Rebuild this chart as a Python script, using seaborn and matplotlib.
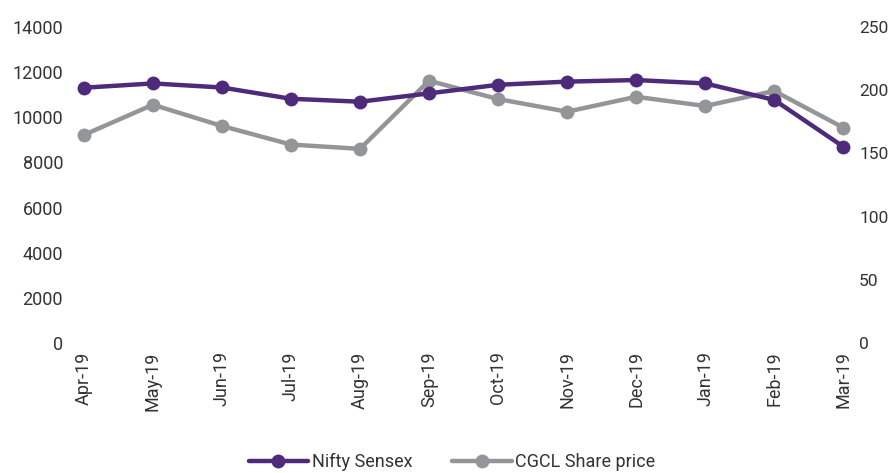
import matplotlib
matplotlib.use("Agg")
import matplotlib.pyplot as plt
import seaborn as sns
import pandas as pd
from matplotlib.lines import Line2D

months = ["Apr-19", "May-19", "Jun-19", "Jul-19", "Aug-19", "Sep-19",
          "Oct-19", "Nov-19", "Dec-19", "Jan-19", "Feb-19", "Mar-19"]
nifty = [11310, 11500, 11320, 10820, 10690, 11060, 11440, 11580, 11650, 11500, 10770, 8700]
cgcl = [164.6, 188.5, 171.7, 157.0, 153.6, 207.5, 193.0, 183.0, 194.8, 187.5, 199.4, 170.4]
left_ticks = [0, 2000, 4000, 6000, 8000, 10000, 12000, 14000]
right_ticks = [0, 50, 100, 150, 200, 250]

purple = "#4E2A7B"
gray = "#939598"
txt = "#333333"

sns.set_theme(style="white")
plt.rcParams["font.family"] = ["Roboto", "DejaVu Sans"]

df = pd.DataFrame({"x": range(len(months)), "month": months, "nifty": nifty, "cgcl": cgcl})

fig = plt.figure(figsize=(8.93, 4.73), dpi=100)
ax = fig.add_axes([70 / 893, 1 - 343 / 473, (855 - 70) / 893, (343 - 27) / 473])
ax2 = ax.twinx()

sns.lineplot(data=df, x="x", y="cgcl", ax=ax2, color=gray, linewidth=3.2,
             marker="o", markersize=10, markeredgewidth=0, legend=False)
sns.lineplot(data=df, x="x", y="nifty", ax=ax, color=purple, linewidth=3.2,
             marker="o", markersize=10, markeredgewidth=0, legend=False)

ax.set_zorder(ax2.get_zorder() + 1)
ax.patch.set_visible(False)

ax.set_ylim(0, 14000)
ax2.set_ylim(0, 250)
ax.set_xlim(-0.2, 11.17)
ax.set_yticks(left_ticks)
ax.set_yticklabels([str(v) for v in left_ticks])
ax2.set_yticks(right_ticks)
ax2.set_yticklabels([str(v) for v in right_ticks])
ax.set_xticks(range(len(months)))
ax.set_xticklabels(months, rotation=90)

for a in (ax, ax2):
    a.set_xlabel("")
    a.set_ylabel("")
    for s in a.spines.values():
        s.set_visible(False)
    a.tick_params(length=0, labelsize=13, labelcolor=txt)
    a.grid(False)
ax.tick_params(axis="y", pad=5)
ax2.tick_params(axis="y", pad=3, labelsize=12.5)
ax.tick_params(axis="x", pad=6)

handles = [
    Line2D([0], [0], color=purple, linewidth=3.2, marker="o", markersize=10, markeredgewidth=0),
    Line2D([0], [0], color=gray, linewidth=3.2, marker="o", markersize=10, markeredgewidth=0),
]
fig.legend(handles, ["Nifty Sensex", "CGCL Share price"], loc="center",
           bbox_to_anchor=(452 / 893, 1 - 462 / 473), ncol=2, frameon=False,
           fontsize=13, handlelength=3.3, handletextpad=0.2, columnspacing=2.2,
           labelcolor=txt)

fig.savefig("out.png", dpi=100)
